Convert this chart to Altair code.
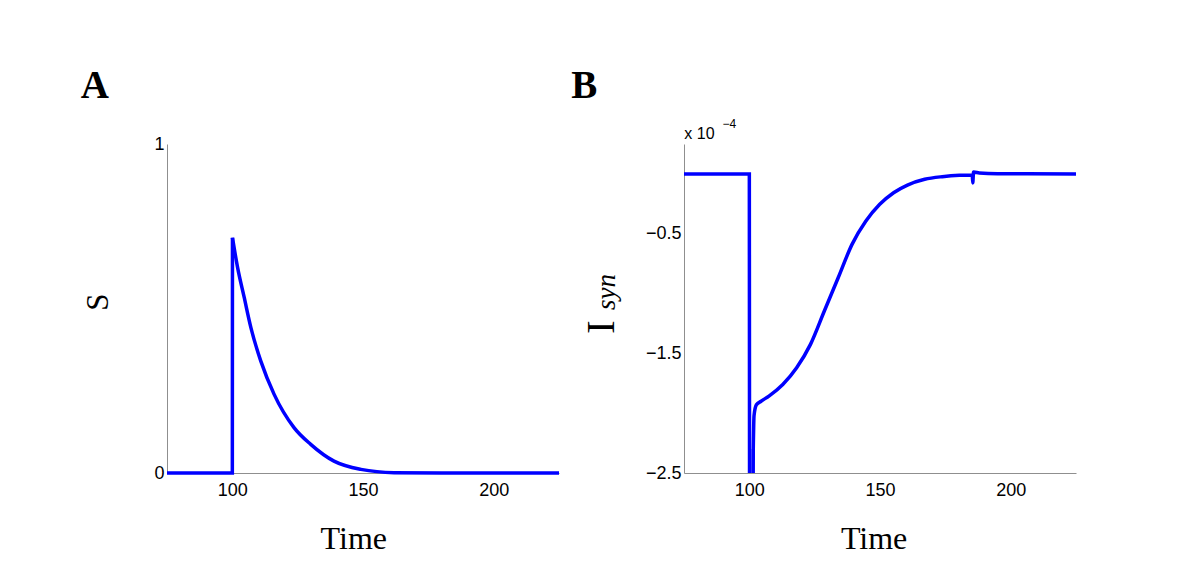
import altair as alt
import pandas as pd

# Panel A: synaptic gating variable S versus time
s_time = [75, 100.0, 100.05, 102.0, 104.5, 107.1, 110.9, 116.0, 123.6, 130.0, 138.9, 149.2, 161.9, 180.0, 225]
s_value = [0, 0, 0.715, 0.625, 0.535, 0.442, 0.340, 0.239, 0.138, 0.087, 0.036, 0.011, 0.001, 0.0, 0]
s_step_end = 3  # first points form the step (straight segments); the rest is the smooth decay

# Panel B: synaptic current I_syn (units of 1e-4) versus time
i_time = [75, 100.0, 100.1, 101.4, 101.5, 101.8, 102.7, 104.5, 107.5, 112.8, 118.1, 123.4, 128.7,
          134.0, 139.3, 144.6, 149.9, 155.2, 160.5, 167.1, 173.8, 180.4, 185.3, 185.5, 185.8,
          188.0, 195.0, 225]
i_value = [0, 0, -3.2, -3.2, -2.3, -2.02, -1.93, -1.90, -1.857, -1.76, -1.62, -1.425, -1.146,
           -0.868, -0.589, -0.394, -0.254, -0.157, -0.093, -0.045, -0.023, -0.012, -0.010, -0.075, 0.015,
           0.008, 0.002, 0]
i_step_end = 5

x_ticks = [100, 150, 200]
s_ticks = [0, 1]
i_ticks = [-2.5, -1.5, -0.5]

df_s = pd.DataFrame({"t": s_time, "v": s_value, "i": range(len(s_time))})
df_i = pd.DataFrame({"t": i_time, "v": i_value, "i": range(len(i_time))})
dummy = pd.DataFrame({"k": [0]})

W, H = 392, 329
BLUE = "#0000ff"
AX = "#8f8f8f"


def xaxis(title_x):
    return alt.Axis(values=x_ticks, title="Time", titleX=title_x, titleY=75,
                    titleAlign="center", titleBaseline="alphabetic",
                    titleFont="Liberation Serif", titleFontSize=32, titleFontWeight="normal",
                    titleColor="black", labelFont="Liberation Sans", labelFontSize=18,
                    labelColor="black", labelPadding=8, ticks=False, grid=False,
                    domainColor=AX, domainWidth=1)


def txt(text, x, y, size, font="Liberation Serif", weight="normal", style="normal", angle=0):
    return alt.Chart(dummy).mark_text(
        text=text, font=font, fontSize=size, fontWeight=weight, fontStyle=style,
        angle=angle, align="left", baseline="alphabetic", color="black"
    ).encode(x=alt.value(x), y=alt.value(y))


x_a = alt.X("t:Q", scale=alt.Scale(domain=[75, 225], nice=False, zero=False), axis=xaxis(186.3))
y_a = alt.Y("v:Q", scale=alt.Scale(domain=[0, 1], nice=False),
            axis=alt.Axis(values=s_ticks, title="S", titleX=-59.2, titleY=157.5, titleAngle=270,
                          titleAlign="center", titleBaseline="alphabetic",
                          titleFont="Liberation Serif", titleFontSize=31, titleFontWeight="normal",
                          titleColor="black", labelFont="Liberation Sans", labelFontSize=18,
                          labelColor="black", labelPadding=3, ticks=False, grid=False,
                          domainColor=AX, domainWidth=1, format="d"))

step_a = alt.Chart(df_s[df_s["i"] < s_step_end]).mark_line(
    color=BLUE, strokeWidth=3.5, strokeJoin="miter").encode(x=x_a, y=y_a, order="i:Q")
decay_a = alt.Chart(df_s[df_s["i"] >= s_step_end - 1]).mark_line(
    color=BLUE, strokeWidth=3.5, interpolate="monotone").encode(x=x_a, y=y_a, order="i:Q")

panel_a = alt.layer(
    step_a, decay_a,
    txt("A", -86.2, -46, 39, weight="bold"),
).properties(width=W, height=H)

x_b = alt.X("t:Q", scale=alt.Scale(domain=[75, 225], nice=False, zero=False), axis=xaxis(189.6))
y_b = alt.Y("v:Q", scale=alt.Scale(domain=[-2.5, 0.25], nice=False, zero=False),
            axis=alt.Axis(values=i_ticks, title=None, format=".1f",
                          labelFont="Liberation Sans", labelFontSize=18, labelColor="black",
                          labelPadding=3, ticks=False, grid=False, domainColor=AX, domainWidth=1))

step_b = alt.Chart(df_i[df_i["i"] < i_step_end]).mark_line(
    color=BLUE, strokeWidth=3.5, clip=True, strokeJoin="miter").encode(x=x_b, y=y_b, order="i:Q")
curve_b = alt.Chart(df_i[df_i["i"] >= i_step_end - 1]).mark_line(
    color=BLUE, strokeWidth=3.5, clip=True, interpolate="monotone").encode(x=x_b, y=y_b, order="i:Q")

panel_b = alt.layer(
    step_b, curve_b,
    txt("B", -112.7, -46, 39, weight="bold"),
    txt("I", -69.7, 190, 41, angle=270),
    txt("syn", -68.7, 166, 27, style="italic", angle=270),
    txt("x 10", 0.3, -5, 16, font="Liberation Sans"),
    txt("\u22124", 38.5, -16, 12, font="Liberation Sans"),
).properties(width=W, height=H)

chart = alt.hconcat(panel_a, panel_b, spacing=5).properties(
    padding={"left": 72, "top": 59, "right": 5, "bottom": 5},
    background="white",
).configure_view(stroke=None)

chart.save("out.html", embed_options={"renderer": "svg", "actions": False})
